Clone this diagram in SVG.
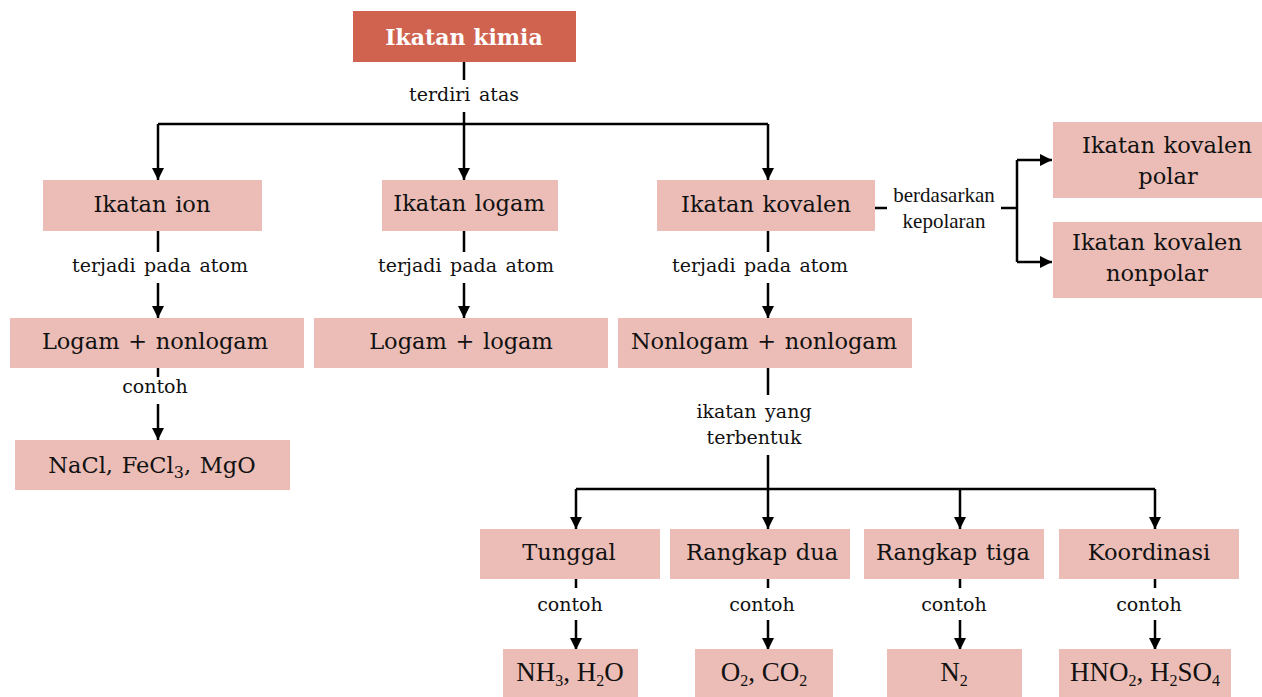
<svg xmlns="http://www.w3.org/2000/svg" width="1262" height="697" viewBox="0 0 1262 697">
<defs>
<marker id="arr" markerUnits="userSpaceOnUse" markerWidth="14" markerHeight="14" refX="12" refY="6" orient="auto">
<path d="M0,0 L12,6 L0,12 Z" fill="#000"/>
</marker>
<style>
.box{fill:#EBBDB6}
.top{fill:#D0634F}
.t{font-family:"DejaVu Serif","Liberation Serif",serif;font-size:22.5px;word-spacing:1.5px;fill:#111;text-anchor:middle}
.lbl{font-family:"DejaVu Serif","Liberation Serif",serif;font-size:19px;word-spacing:2.5px;fill:#111;text-anchor:middle}
.f{font-family:"Liberation Serif",serif;font-size:27px;fill:#111;text-anchor:middle}
.sub{font-size:16px}
.c{stroke:#000;stroke-width:2.5;fill:none}
.a{marker-end:url(#arr)}
</style>
</defs>
<rect width="1262" height="697" fill="#fff"/>
<g id="connectors">
<path class="c" d="M464 62V80M464 112V124M158 124H768"/>
<path class="c a" d="M158 124V180"/>
<path class="c a" d="M464 124V180"/>
<path class="c a" d="M768 124V180"/>
<path class="c" d="M158 231V252M464 231V252M768 231V252"/>
<path class="c a" d="M158 283V318"/>
<path class="c a" d="M464 283V318"/>
<path class="c a" d="M768 283V318"/>
<path class="c" d="M158 368V377"/>
<path class="c a" d="M158 404V440"/>
<path class="c" d="M875 208H887M1001 208H1017M1017 160V262"/>
<path class="c a" d="M1017 160H1052"/>
<path class="c a" d="M1017 262H1052"/>
<path class="c" d="M768 368V395M768 455V489M576 489H1155"/>
<path class="c a" d="M576 489V529"/>
<path class="c a" d="M768 489V529"/>
<path class="c a" d="M960 489V529"/>
<path class="c a" d="M1155 489V529"/>
<path class="c" d="M576 579V588M768 579V588M960 579V588M1155 579V588"/>
<path class="c a" d="M576 620V650"/>
<path class="c a" d="M768 620V650"/>
<path class="c a" d="M960 620V650"/>
<path class="c a" d="M1155 620V650"/>
</g>
<g id="labels">
<text class="lbl" x="464" y="101">terdiri atas</text>
<text class="lbl" x="160" y="272">terjadi pada atom</text>
<text class="lbl" x="466" y="272">terjadi pada atom</text>
<text class="lbl" x="760" y="272">terjadi pada atom</text>
<text class="lbl" x="155" y="393">contoh</text>
<text class="lbl" x="754" y="418">ikatan yang</text>
<text class="lbl" x="754" y="444">terbentuk</text>
<text class="f" style="font-size:21px" x="944" y="202">berdasarkan</text>
<text class="f" style="font-size:21px" x="944" y="228">kepolaran</text>
<text class="lbl" x="570" y="611">contoh</text>
<text class="lbl" x="762" y="611">contoh</text>
<text class="lbl" x="954" y="611">contoh</text>
<text class="lbl" x="1149" y="611">contoh</text>
</g>
<g id="n-kimia"><rect class="top" x="353" y="11" width="223" height="51"/><text class="t" x="464" y="45" style="fill:#fff;font-weight:bold;font-size:22px;word-spacing:0">Ikatan kimia</text></g>
<g id="n-ion"><rect class="box" x="43" y="180" width="219" height="51"/><text class="t" x="152" y="212">Ikatan ion</text></g>
<g id="n-logam"><rect class="box" x="382" y="180" width="176" height="51"/><text class="t" x="469" y="211">Ikatan logam</text></g>
<g id="n-kovalen"><rect class="box" x="657" y="180" width="218" height="51"/><text class="t" x="766" y="212">Ikatan kovalen</text></g>
<g id="n-polar"><rect class="box" x="1053" y="122" width="209" height="76"/><text class="t" x="1167" y="153">Ikatan kovalen</text><text class="t" x="1168" y="184">polar</text></g>
<g id="n-nonpolar"><rect class="box" x="1053" y="222" width="209" height="76"/><text class="t" x="1157" y="250">Ikatan kovalen</text><text class="t" x="1157" y="281">nonpolar</text></g>
<g id="n-lnl"><rect class="box" x="10" y="318" width="294" height="50"/><text class="t" x="155" y="349">Logam + nonlogam</text></g>
<g id="n-ll"><rect class="box" x="314" y="318" width="294" height="50"/><text class="t" x="461" y="349">Logam + logam</text></g>
<g id="n-nn"><rect class="box" x="618" y="318" width="294" height="50"/><text class="t" x="764" y="349">Nonlogam + nonlogam</text></g>
<g id="n-nacl"><rect class="box" x="15" y="440" width="275" height="50"/><text class="t" x="152" y="473">NaCl, FeCl<tspan class="sub" dy="5">3</tspan><tspan dy="-5">, MgO</tspan></text></g>
<g id="n-tunggal"><rect class="box" x="480" y="529" width="180" height="50"/><text class="t" x="569" y="560">Tunggal</text></g>
<g id="n-dua"><rect class="box" x="670" y="529" width="180" height="50"/><text class="t" x="762" y="560">Rangkap dua</text></g>
<g id="n-tiga"><rect class="box" x="864" y="529" width="180" height="50"/><text class="t" x="953" y="560">Rangkap tiga</text></g>
<g id="n-koord"><rect class="box" x="1059" y="529" width="180" height="50"/><text class="t" x="1149" y="560">Koordinasi</text></g>
<g id="n-nh3"><rect class="box" x="503" y="649" width="135" height="48"/><text class="f" x="570" y="681">NH<tspan class="sub" dy="5">3</tspan><tspan dy="-5">, H</tspan><tspan class="sub" dy="5">2</tspan><tspan dy="-5">O</tspan></text></g>
<g id="n-o2"><rect class="box" x="695" y="649" width="138" height="48"/><text class="f" x="764" y="681">O<tspan class="sub" dy="5">2</tspan><tspan dy="-5">, CO</tspan><tspan class="sub" dy="5">2</tspan></text></g>
<g id="n-n2"><rect class="box" x="887" y="649" width="135" height="48"/><text class="f" x="954" y="681">N<tspan class="sub" dy="5">2</tspan></text></g>
<g id="n-hno2"><rect class="box" x="1059" y="649" width="172" height="48"/><text class="f" x="1145" y="681">HNO<tspan class="sub" dy="5">2</tspan><tspan dy="-5">, H</tspan><tspan class="sub" dy="5">2</tspan><tspan dy="-5">SO</tspan><tspan class="sub" dy="5">4</tspan></text></g>
</svg>
